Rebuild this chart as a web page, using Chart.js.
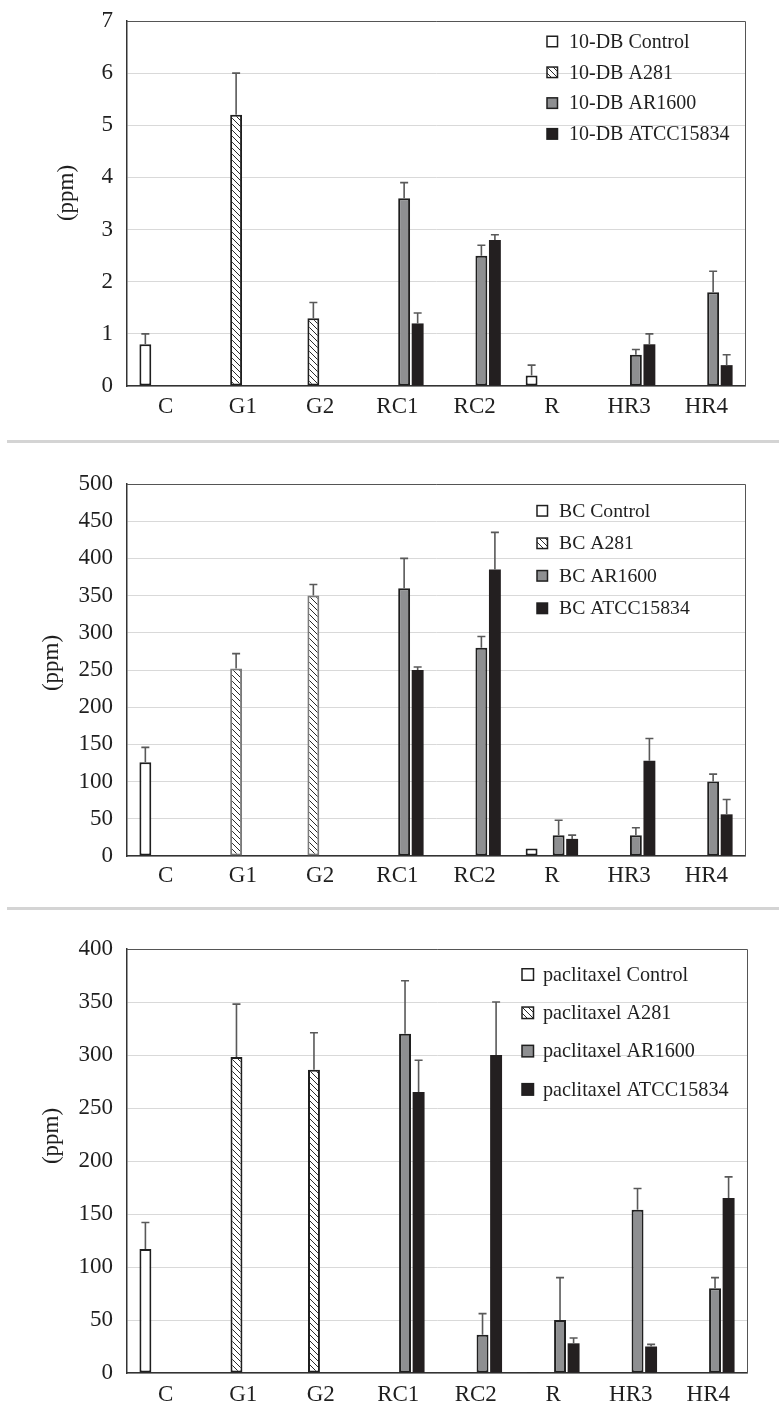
<!DOCTYPE html>
<html><head><meta charset="utf-8">
<script src="https://cdn.jsdelivr.net/npm/chart.js@4.4.1/dist/chart.umd.min.js"></script>
<style>
html,body{margin:0;padding:0;background:#fff;}
body{width:779px;height:1406px;position:relative;overflow:hidden;}
.panel{position:absolute;left:0;width:779px;}
.sep{position:absolute;left:7px;right:0;height:3px;background:#d4d4d4;}
</style></head><body>
<div class="panel" style="top:0;height:440px"><canvas id="c1"></canvas></div>
<div class="sep" style="top:440px"></div>
<div class="panel" style="top:443px;height:465px"><canvas id="c2"></canvas></div>
<div class="sep" style="top:907px"></div>
<div class="panel" style="top:911px;height:495px"><canvas id="c3"></canvas></div>
<script>
// ---------- data ----------
const categories = ['C', 'G1', 'G2', 'RC1', 'RC2', 'R', 'HR3', 'HR4'];
const seriesNames = ['Control', 'A281', 'AR1600', 'ATCC15834'];
const yTitle = '(ppm)';

// Panel 1: 10-DB
const dbPrefix = '10-DB';
const dbControl    = [0.8, null, null, null, null, 0.2, null, null];
const dbControlErr = [0.2, null, null, null, null, 0.2, null, null];
const dbA281       = [null, 5.2, 1.3, null, null, null, null, null];
const dbA281Err    = [null, 0.8, 0.3, null, null, null, null, null];
const dbAR1600     = [null, null, null, 3.6, 2.5, null, 0.6, 1.8];
const dbAR1600Err  = [null, null, null, 0.3, 0.2, null, 0.1, 0.4];
const dbATCC       = [null, null, null, 1.2, 2.8, null, 0.8, 0.4];
const dbATCCErr    = [null, null, null, 0.2, 0.1, null, 0.2, 0.2];
const dbTicks = {min: 0, max: 7, step: 1};

// Panel 2: BC
const bcPrefix = 'BC';
const bcControl    = [126, null, null, null, null, 10, null, null];
const bcControlErr = [20, null, null, null, null, null, null, null];
const bcA281       = [null, 252, 350, null, null, null, null, null];
const bcA281Err    = [null, 20, 15, null, null, null, null, null];
const bcAR1600     = [null, null, null, 360, 280, 28, 28, 100];
const bcAR1600Err  = [null, null, null, 40, 15, 20, 10, 10];
const bcATCC       = [null, null, null, 250, 385, 23, 128, 56];
const bcATCCErr    = [null, null, null, 4, 50, 5, 30, 20];
const bcTicks = {min: 0, max: 500, step: 50};

// Panel 3: paclitaxel
const pxPrefix = 'paclitaxel';
const pxControl    = [117, null, null, null, null, 1, null, null];
const pxControlErr = [25, null, null, null, null, null, null, null];
const pxA281       = [null, 298, 286, null, null, null, null, null];
const pxA281Err    = [null, 50, 35, null, null, null, null, null];
const pxAR1600     = [null, null, null, 320, 36, 50, 154, 80];
const pxAR1600Err  = [null, null, null, 50, 20, 40, 20, 10];
const pxATCC       = [null, null, null, 265, 300, 28, 25, 165];
const pxATCCErr    = [null, null, null, 30, 50, 5, 2, 20];
const pxTicks = {min: 0, max: 400, step: 50};

// ---------- styling helpers ----------
const FONT = '"Liberation Serif", "Times New Roman", Times, serif';
const INK = '#1f1f1f';

function makeHatch() {
  const s = 6;
  const c = document.createElement('canvas');
  c.width = s; c.height = s;
  const x = c.getContext('2d');
  x.fillStyle = '#ffffff'; x.fillRect(0, 0, s, s);
  x.strokeStyle = '#2a2a2a'; x.lineWidth = 1;
  x.beginPath();
  for (let k = -1; k <= 1; k++) {
    x.moveTo(-1, -1 + k * s); x.lineTo(s + 1, s + 1 + k * s);
  }
  x.stroke();
  return c;
}
const hatchCanvas = makeHatch();

const errorBarPlugin = {
  id: 'errorBars',
  afterDatasetsDraw(chart, args, o) {
    const ctx = chart.ctx, ys = chart.scales.y;
    chart.data.datasets.forEach((ds, i) => {
      if (!ds.errors) return;
      const meta = chart.getDatasetMeta(i);
      meta.data.forEach((bar, j) => {
        const v = ds.data[j], e = ds.errors[j];
        if (v == null || !e) return;
        const y0 = ys.getPixelForValue(v), y1 = ys.getPixelForValue(v + e);
        ctx.save();
        ctx.strokeStyle = o.color; ctx.lineWidth = o.width;
        ctx.beginPath();
        ctx.moveTo(bar.x, y0); ctx.lineTo(bar.x, y1);
        ctx.moveTo(bar.x - o.cap / 2, y1); ctx.lineTo(bar.x + o.cap / 2, y1);
        ctx.stroke();
        ctx.restore();
      });
    });
  }
};

const framePlugin = {
  id: 'frame',
  beforeDatasetsDraw(chart, args, o) {
    const {left, right, top, bottom} = chart.chartArea;
    const ctx = chart.ctx;
    ctx.save();
    ctx.strokeStyle = o.color; ctx.lineWidth = 1;
    ctx.beginPath();
    ctx.moveTo(left, top + 0.5); ctx.lineTo(right + 0.5, top + 0.5); ctx.lineTo(right + 0.5, bottom);
    ctx.stroke();
    ctx.restore();
  }
};

const boxLegendPlugin = {
  id: 'boxLegend',
  afterDraw(chart, args, o) {
    const ctx = chart.ctx;
    ctx.save();
    ctx.font = o.fontSize + 'px ' + FONT;
    ctx.textBaseline = 'middle';
    ctx.textAlign = 'left';
    chart.data.datasets.forEach((ds, i) => {
      const cy = o.y + i * o.spacing;
      const bx = o.x, by = cy - o.box / 2;
      ctx.fillStyle = ds.backgroundColor;
      ctx.fillRect(bx, by, o.box, o.box);
      ctx.strokeStyle = INK; ctx.lineWidth = 1.5;
      ctx.strokeRect(bx, by, o.box, o.box);
      ctx.fillStyle = INK;
      ctx.fillText(ds.label, bx + o.textOffset, cy + 1);
    });
    ctx.restore();
  }
};

const yTitlePlugin = {
  id: 'yTitleText',
  afterDraw(chart, args, o) {
    const ctx = chart.ctx;
    ctx.save();
    ctx.translate(o.x, o.y);
    ctx.rotate(-Math.PI / 2);
    ctx.font = o.fontSize + 'px ' + FONT;
    ctx.fillStyle = INK;
    ctx.textAlign = 'center';
    ctx.textBaseline = 'middle';
    ctx.fillText(o.text, 0, 0);
    ctx.restore();
  }
};

function makePanel(id, prefix, series, errors, ticks, g) {
  const ctx = document.getElementById(id).getContext('2d');
  const hatch = ctx.createPattern(hatchCanvas, 'repeat');
  const fills = ['#ffffff', hatch, '#8e8f91', '#231f20'];
  const borders = [INK, g.hatchBorder, INK, INK];
  const bw = [2, 2, 2, 0];
  const datasets = seriesNames.map((n, i) => ({
    label: prefix + ' ' + n,
    data: series[i],
    errors: errors[i],
    backgroundColor: fills[i],
    borderColor: borders[i],
    borderWidth: bw[i],
    borderSkipped: false,
    barPercentage: 0.88,
    categoryPercentage: 0.7
  }));
  return new Chart(ctx, {
    type: 'bar',
    data: {labels: categories, datasets},
    options: {
      responsive: true,
      maintainAspectRatio: false,
      animation: false,
      layout: {autoPadding: false, padding: {left: 0, top: g.top, right: g.right, bottom: 0}},
      plugins: {
        legend: {display: false},
        tooltip: {enabled: false},
        errorBars: {color: '#595959', width: 1.6, cap: 8},
        frame: {color: '#555555'},
        boxLegend: g.legend,
        yTitleText: Object.assign({text: yTitle, fontSize: 23}, g.title)
      },
      scales: {
        x: {
          grid: {display: false, drawTicks: false},
          border: {display: true, color: '#333333', width: 1.5},
          ticks: {color: INK, font: {family: FONT, size: 23}, padding: g.xPad, maxRotation: 0, autoSkip: false},
          afterFit(scale) { scale.height = g.xH; scale.paddingLeft = 0; scale.paddingRight = 0; }
        },
        y: {
          min: ticks.min, max: ticks.max,
          grid: {color: '#d9d9d9', lineWidth: 1, drawTicks: false},
          border: {display: true, color: '#333333', width: 1.5},
          ticks: {stepSize: ticks.step, color: INK, font: {family: FONT, size: 23}, padding: 14},
          afterFit(scale) { scale.width = 127; scale.paddingTop = 0; scale.paddingBottom = 0; }
        }
      }
    },
    plugins: [framePlugin, errorBarPlugin, boxLegendPlugin, yTitlePlugin]
  });
}

makePanel('c1', dbPrefix,
  [dbControl, dbA281, dbAR1600, dbATCC],
  [dbControlErr, dbA281Err, dbAR1600Err, dbATCCErr],
  dbTicks,
  {top: 21, right: 34, xH: 54, xPad: 7, hatchBorder: INK,
   title: {x: 67, y: 193},
   legend: {x: 547, y: 41.5, spacing: 30.8, box: 10.5, textOffset: 22, fontSize: 20}});

makePanel('c2', bcPrefix,
  [bcControl, bcA281, bcAR1600, bcATCC],
  [bcControlErr, bcA281Err, bcAR1600Err, bcATCCErr],
  bcTicks,
  {top: 41, right: 34, xH: 52, xPad: 6, hatchBorder: '#7a7a7a',
   title: {x: 52, y: 220},
   legend: {x: 537, y: 67.8, spacing: 32.5, box: 10.5, textOffset: 22, fontSize: 19.7}});

makePanel('c3', pxPrefix,
  [pxControl, pxA281, pxAR1600, pxATCC],
  [pxControlErr, pxA281Err, pxAR1600Err, pxATCCErr],
  pxTicks,
  {top: 38, right: 32, xH: 33, xPad: 8, hatchBorder: INK,
   title: {x: 52, y: 225},
   legend: {x: 522, y: 63.5, spacing: 38.3, box: 11.5, textOffset: 21, fontSize: 20.2}});
</script>
</body></html>
